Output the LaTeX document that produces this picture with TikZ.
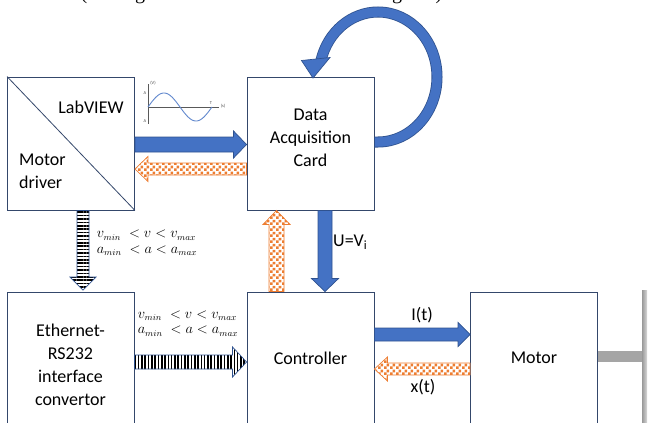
\documentclass[tikz,border=0pt]{standalone}
\usepackage{fontspec}
\setmainfont{Carlito}
\newfontfamily\serifx{Liberation Serif}
\usetikzlibrary{calc,patterns.meta}

\definecolor{myblue}{HTML}{4472C4}
\definecolor{myblueline}{HTML}{2F528F}
\definecolor{myorange}{HTML}{ED7D31}
\definecolor{boxline}{HTML}{34476B}
\definecolor{shaftgray}{HTML}{A5A5A5}

\tikzdeclarepattern{
  name=checkers, type=uncolored,
  bottom left={(0pt,0pt)}, top right={(6pt,6pt)}, tile size={(6pt,6pt)},
  code={\fill (0pt,0pt) rectangle (3pt,3pt); \fill (3pt,3pt) rectangle (6pt,6pt);}
}

% #1 start, #2 tip, #3 shaft half width, #4 head half width, #5 head length, #6 style
\newcommand\blockarrow[6]{%
  \coordinate (ba-base) at ($(#2)!#5!(#1)$);
  \path[#6] ($(#1)!#3!90:(#2)$) -- ($(ba-base)!#3!90:(#2)$) -- ($(ba-base)!#4!90:(#2)$) -- (#2)
    -- ($(ba-base)!#4!-90:(#2)$) -- ($(ba-base)!#3!-90:(#2)$) -- ($(#1)!#3!-90:(#2)$) -- cycle;}

\begin{document}
\begin{tikzpicture}[x=1pt,y=-1pt,
  blk/.style={draw=boxline, line width=0.9pt, fill=white, inner sep=0pt,
    minimum width=127pt, minimum height=133pt},
  tallblk/.style={blk, minimum height=146pt},
  lbl/.style={font=\fontsize{18}{23}\selectfont, inner sep=0pt, align=center},
  mathlbl/.style={font=\fontsize{13.5}{15.5}\selectfont, inner sep=0pt, align=left},
  tiny/.style={font=\fontsize{4.5}{5}\selectfont, inner sep=0pt, text=black!70},
  bluearrow/.style={fill=myblue, draw=myblueline, line width=0.7pt},
  checkarrow/.style={preaction={fill=white}, pattern=checkers, pattern color=myorange,
    draw=myorange, line width=0.7pt},
  hhatch/.style={preaction={fill=white}, pattern={Lines[angle=0,distance=3.4pt,line width=1.7pt]},
    pattern color=black, draw=myblueline, line width=0.7pt},
  vhatch/.style={preaction={fill=white}, pattern={Lines[angle=90,distance=3.3pt,line width=1.6pt]},
    pattern color=black, draw=myblueline, line width=0.7pt},
  topglyph/.style={font=\serifx\fontsize{20}{20}\selectfont, anchor=base, inner sep=0pt}
]
\useasboundingbox (0,0) rectangle (648,423);

% cut-off caption remnants at the top edge
\node[topglyph] (tg1) at (84,-1) {(};
\node[topglyph] (tg2) at (140,-1) {g};
\node[topglyph] (tg3) at (397,-1) {g};
\node[topglyph] (tg4) at (439,-1) {)};

% boxes
\node[blk] (md) at (71,143.5) {};
\draw[boxline, line width=0.8pt] (md.north west) -- (md.south east);
\node[lbl] (lab) at (91,107) {LabVIEW};
\node[lbl, align=left, anchor=west] (mdt) at (19,171.5) {Motor\\driver};

\node[blk] (daq) at (310.5,143.5) {};
\node[lbl] (daqt) at (310.5,138) {Data\\Acquisition\\Card};

\node[tallblk] (eth) at (70.5,365) {};
\node[lbl] (etht) at (70.5,365) {Ethernet-\\RS232\\interface\\convertor};

\node[tallblk] (ctrl) at (310.5,365) {};
\node[lbl] (ctrlt) at (310.5,358) {Controller};

\node[tallblk] (motor) at (534,365) {};
\node[lbl] (motort) at (534,358) {Motor};

% motor shaft and wall
\fill[shaftgray] (motor.east |- 0,351) rectangle (642,362);
\shade[left color=black!40, right color=black!15] (642,290) rectangle (647,430);

% sine chart
\draw[black!65, line width=0.6pt] (148,84) -- (148,124);
\draw[black!65, line width=0.6pt] (148,107) -- (219,107);
\draw[myblue!85, line width=0.9pt] plot[domain=0:1, samples=60] ({148+64*\x},{107-14*sin(360*\x)});
\node[tiny] (cv) at (153,83) {(V)};
\node[tiny] (ca1) at (145,93) {A};
\node[tiny] (ca2) at (145,121.5) {A};
\node[tiny] (ct) at (211,103.5) {T};
\node[tiny] (cs) at (223,106) {(s)};

% horizontal arrows between top boxes
\coordinate (a1s) at ($(md.east)+(0,1)$);
\coordinate (a1e) at ($(daq.west)+(0,1)$);
\blockarrow{a1s}{a1e}{7.5pt}{13.5pt}{13pt}{bluearrow}
\coordinate (a2s) at ($(daq.west)+(0,25.5)$);
\coordinate (a2e) at ($(md.east)+(0,25.5)$);
\blockarrow{a2s}{a2e}{6pt}{12.5pt}{13pt}{checkarrow}

% motor driver -> ethernet converter
\coordinate (a3s) at ($(md.south)+(12,0)$);
\coordinate (a3e) at ($(eth.north)+(12.5,-1.5)$);
\blockarrow{a3s}{a3e}{6pt}{13pt}{13pt}{hhatch}
\node[mathlbl] (lim1) at (147,243) {$v_{min}\; < v < v_{max}$\\$a_{min}\; < a < a_{max}$};

% ethernet -> controller
\coordinate (a4s) at ($(eth.east |- 0,362)$);
\coordinate (a4e) at ($(ctrl.west |- 0,362)$);
\blockarrow{a4s}{a4e}{7pt}{15pt}{14pt}{vhatch}
\node[mathlbl] (lim2) at (188,323.5) {$v_{min}\; < v < v_{max}$\\$a_{min}\; < a < a_{max}$};

% controller <-> data acquisition card
\coordinate (a5s) at ($(ctrl.north)+(-34,0)$);
\coordinate (a5e) at ($(daq.south)+(-34,0)$);
\blockarrow{a5s}{a5e}{7.5pt}{13.5pt}{14pt}{checkarrow}
\coordinate (a6s) at ($(daq.south)+(14.5,0)$);
\coordinate (a6e) at ($(ctrl.north)+(14.5,0)$);
\blockarrow{a6s}{a6e}{7pt}{13.5pt}{13pt}{bluearrow}
\node[lbl, anchor=west] (uv) at (333,242) {U=V\textsubscript{i}};

% controller <-> motor
\coordinate (a7s) at ($(ctrl.east |- 0,334.5)$);
\coordinate (a7e) at ($(motor.west |- 0,334.5)$);
\blockarrow{a7s}{a7e}{6.5pt}{12pt}{12pt}{bluearrow}
\node[lbl] (it) at (422,315) {I(t)};
\coordinate (a8s) at ($(motor.west |- 0,369)$);
\coordinate (a8e) at ($(ctrl.east |- 0,369)$);
\blockarrow{a8s}{a8e}{6pt}{12pt}{13pt}{checkarrow}
\node[lbl] (xt) at (423,387) {x(t)};

% self loop on data acquisition card
\coordinate (lps) at ($(daq.east)+(0,-1.5)$);
\coordinate (lpb) at (378,142);
\coordinate (lpt) at ($(daq.north)+(2.5,1.5)$);
\draw[myblueline, line width=11pt] (lps) -- (lpb)
  arc[start angle=-90, end angle=165, x radius=59pt, y radius=65pt];
\draw[myblue, line width=9.4pt] ($(lps)+(0.6,0)$) -- (lpb)
  arc[start angle=-90, end angle=165, x radius=59pt, y radius=65pt];
\filldraw[bluearrow] (301.5,60.5) -- (330,57.5) -- (lpt) -- cycle;
\end{tikzpicture}
\end{document}
